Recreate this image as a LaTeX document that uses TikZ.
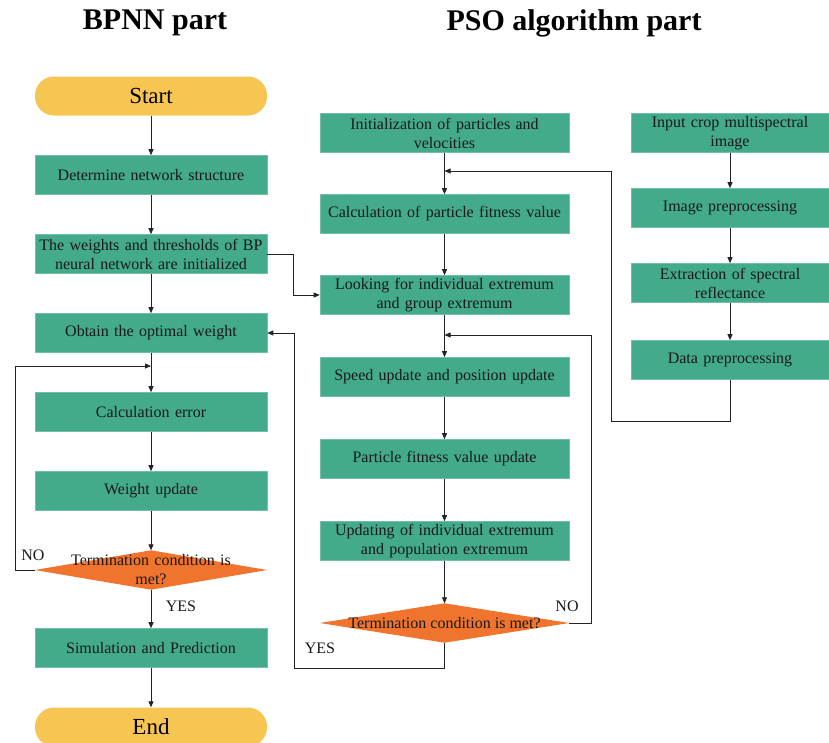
\documentclass[tikz,border=0pt]{standalone}
\usepackage{fontspec}
\setmainfont{Liberation Serif}
\usetikzlibrary{arrows.meta,backgrounds}
\definecolor{boxgreen}{RGB}{67,170,139}
\definecolor{dorange}{RGB}{240,116,45}
\definecolor{pillc}{RGB}{247,198,82}
\definecolor{lnc}{RGB}{35,35,35}
\begin{document}
\begin{tikzpicture}[x=1pt,y=-1pt,
  txt/.style={font=\fontsize{16}{19}\selectfont, text=black!90},
  box/.style={txt, rectangle, fill=boxgreen, draw=boxgreen!75!white, line width=0.6pt,
    minimum height=39pt, align=center, inner sep=1pt},
  lbox/.style={box, text width=230pt},
  pbox/.style={box, text width=247pt},
  rbox/.style={box, text width=196pt},
  pill/.style={rectangle, rounded corners=19pt, fill=pillc, minimum width=232pt,
    minimum height=39pt, inner sep=0pt, font=\fontsize{23}{27}\selectfont, text=black},
  dtext/.style={txt, rectangle, minimum height=39pt, align=center, inner sep=0pt},
  arr/.style={draw=lnc, line width=0.8pt, -{Triangle[length=6pt,width=5pt]}},
  lbl/.style={txt, inner sep=0pt},
  title/.style={font=\fontsize{30}{35}\selectfont\bfseries, text=black}
]
\useasboundingbox (0,0) rectangle (829,742);

% titles
\node[title] (t1) at (155,23) {BPNN part};
\node[title] (t2) at (574,23) {PSO algorithm part};

% BPNN column
\node[pill] (start) at (151,96) {Start};
\node[lbox] (dns) at (151,175) {Determine network structure};
\node[lbox] (wts) at (151,254) {The weights and thresholds of BP\\neural network are initialized};
\node[lbox] (opt) at (151,333) {Obtain the optimal weight};
\node[lbox] (cal) at (151,412) {Calculation error};
\node[lbox] (wu) at (151,491) {Weight update};
\node[dtext, minimum width=232pt, text width=226pt] (d1) at (151,570) {Termination condition is\\met?};
\node[lbox] (sim) at (151,648) {Simulation and Prediction};
\node[pill] (end) at (151,727) {End};

% PSO column
\node[pbox] (init) at (444.5,133) {Initialization of particles and\\velocities};
\node[pbox] (pcalc) at (444.5,214) {Calculation of particle fitness value};
\node[pbox] (look) at (444.5,295) {Looking for individual extremum\\and group extremum};
\node[pbox] (speed) at (444.5,377) {Speed update and position update};
\node[pbox] (pfu) at (444.5,459) {Particle fitness value update};
\node[pbox] (upd) at (444.5,541) {Updating of individual extremum\\and population extremum};
\node[dtext, minimum width=249pt] (d2) at (444.5,623) {Termination condition is met?};

% right column
\node[rbox] (inp) at (730,133) {Input crop multispectral\\image};
\node[rbox] (ip) at (730,208) {Image preprocessing};
\node[rbox] (ex) at (730,283) {Extraction of spectral\\reflectance};
\node[rbox] (dp) at (730,360) {Data preprocessing};

\begin{scope}[on background layer]
  \fill[dorange] (d1.west) -- (d1.north) -- (d1.east) -- (d1.south) -- cycle;
  \fill[dorange] (d2.west) -- (d2.north) -- (d2.east) -- (d2.south) -- cycle;
\end{scope}

% junction coordinates
\coordinate (j1) at (151,366);
\coordinate (j2) at (444.5,335);
\coordinate (j3) at (444.5,171);
\coordinate (nol) at (15,570);
\coordinate (yb) at (294,668);
\coordinate (nor) at (591,623);
\coordinate (db) at (611,421);
\coordinate (wr) at (293,254);

% BPNN connectors
\draw[arr] (start) -- (dns);
\draw[arr] (dns) -- (wts);
\draw[arr] (wts) -- (opt);
\draw[arr] (opt) -- (cal);
\draw[arr] (cal) -- (wu);
\draw[arr] (wu) -- (d1.north);
\draw[arr] (d1.south) -- (sim);
\draw[arr] (sim) -- (end);
\draw[arr] (d1.west) -- (nol) |- (j1);
\draw[arr] (wts.east) -- (wr) |- (look.west);

% PSO connectors
\draw[arr] (init) -- (pcalc);
\draw[arr] (pcalc) -- (look);
\draw[arr] (look) -- (speed);
\draw[arr] (speed) -- (pfu);
\draw[arr] (pfu) -- (upd);
\draw[arr] (upd) -- (d2.north);
\draw[arr] (d2.south) |- (yb) |- (opt.east);
\draw[arr] (d2.east) -- (nor) |- (j2);

% right connectors
\draw[arr] (inp) -- (ip);
\draw[arr] (ip) -- (ex);
\draw[arr] (ex) -- (dp);
\draw[arr] (dp.south) |- (db) |- (j3);

% labels
\node[lbl] (no1) at (33,555) {NO};
\node[lbl] (yes1) at (181,606) {YES};
\node[lbl] (no2) at (567,606) {NO};
\node[lbl] (yes2) at (320,648) {YES};
\end{tikzpicture}
\end{document}
